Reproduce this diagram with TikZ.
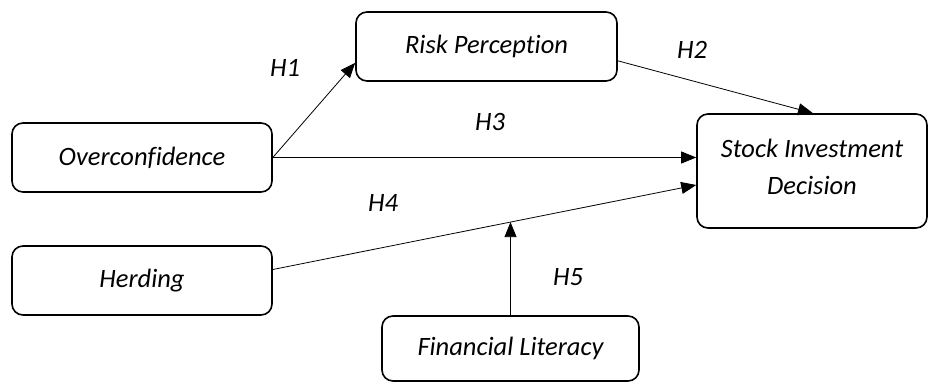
\documentclass[tikz,border=0pt]{standalone}
\usepackage{fontspec}
\setmainfont{Carlito}[Ligatures=NoCommon]
\usetikzlibrary{arrows.meta,calc}
\begin{document}
\begin{tikzpicture}[x=1pt,y=-1pt,
  box/.style={draw,line width=1.6pt,rounded corners=11pt,inner sep=0pt,
    font=\fontsize{26.5}{37}\selectfont\itshape,align=center},
  arr/.style={line width=0.8pt,-{Triangle[length=15pt,width=12pt]}},
  lab/.style={font=\fontsize{26.5}{30}\selectfont\itshape,inner sep=0pt}]
\useasboundingbox (0,0) rectangle (930,383);
\node[box,minimum width=260pt,minimum height=69pt] (oc) at (142,157.5) {Overconfidence};
\node[box,minimum width=261pt,minimum height=69pt] (rp) at (486.5,46.5) {Risk Perception};
\node[box,minimum width=230pt,minimum height=114pt,text depth=8pt] (sid) at (812,171) {Stock Investment\\Decision};
\node[box,minimum width=260pt,minimum height=69pt] (hd) at (142,280.5) {Herding};
\node[box,minimum width=257pt,minimum height=65pt] (fl) at (510.5,348.5) {Financial Literacy};
\coordinate (h1e) at ($(rp.south west)+(0,-19)$);
\coordinate (h2s) at ($(rp.south east)+(0,-21)$);
\coordinate (h2e) at ($(sid.north)+(1,0)$);
\coordinate (h4s) at ($(hd.east)+(0,-11)$);
\coordinate (h4e) at ($(sid.west)+(0,14)$);
\coordinate (h5e) at (intersection of h4s--h4e and fl.north--fl.center);
\draw[arr] (oc.east) -- (h1e);
\draw[arr] (h2s) -- (h2e);
\draw[arr] (oc.east) -- (sid.west |- oc.east);
\draw[arr] (h4s) -- (h4e);
\draw[arr] (fl.north) -- (h5e);
\node[lab] (l1) at (285,68) {H1};
\node[lab] (l2) at (692,50) {H2};
\node[lab] (l3) at (490,122) {H3};
\node[lab] (l4) at (383,203) {H4};
\node[lab] (l5) at (568,277) {H5};
\end{tikzpicture}
\end{document}
